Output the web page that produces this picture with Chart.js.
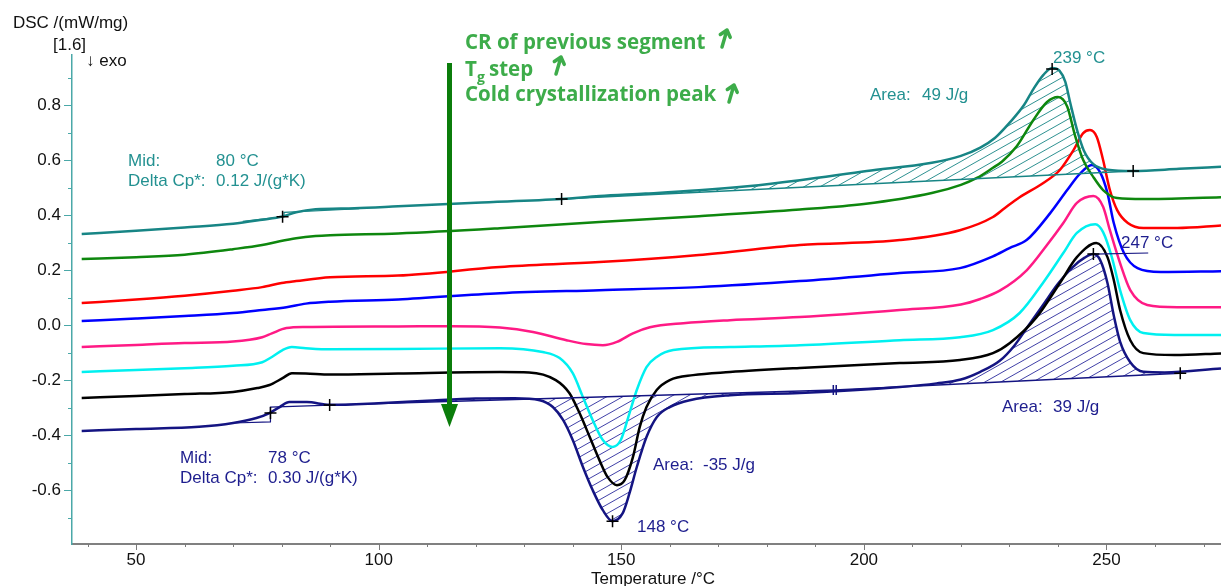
<!DOCTYPE html>
<html>
<head>
<meta charset="utf-8">
<script src="https://cdn.jsdelivr.net/npm/chart.js@4.4.1/dist/chart.umd.min.js"></script>
<style>
  html, body { margin: 0; padding: 0; background: #fff; }
  #wrap { width: 1221px; height: 586px; position: relative; }
</style>
</head>
<body>
<div id="wrap"><canvas id="dscChart"></canvas></div>
<script>
// temperature (°C) / DSC (mW/mg) pairs, top curve first
const tealT = [38.8, 50, 60, 70, 76, 80.2, 83, 87, 95, 104, 120, 137.7, 145.5, 155, 166, 176, 186.8, 200.6, 214, 220, 224, 227, 230, 233, 235, 237, 238.8, 240.3, 241.5, 242.5, 244, 245.3, 247.3, 250.2, 255.5, 265, 273.6];
const tealDsc = [0.331, 0.343, 0.355, 0.368, 0.383, 0.395, 0.41, 0.421, 0.425, 0.432, 0.445, 0.458, 0.469, 0.478, 0.49, 0.505, 0.527, 0.56, 0.59, 0.615, 0.645, 0.68, 0.735, 0.8, 0.86, 0.91, 0.935, 0.925, 0.885, 0.81, 0.705, 0.636, 0.585, 0.565, 0.56, 0.568, 0.576];

const greenT = [38.8, 50, 60, 70, 76, 79.6, 83, 87, 90, 104, 125, 145.5, 166, 186.8, 200, 214, 220, 223.3, 226.6, 228.5, 231.5, 234.9, 237.7, 240, 241.9, 243.5, 245.2, 247.3, 249.3, 252.2, 257.6, 273.6];
const greenDsc = [0.24, 0.247, 0.256, 0.276, 0.291, 0.305, 0.316, 0.324, 0.327, 0.333, 0.352, 0.375, 0.396, 0.42, 0.44, 0.48, 0.51, 0.535, 0.572, 0.595, 0.65, 0.745, 0.81, 0.829, 0.795, 0.69, 0.6, 0.538, 0.491, 0.462, 0.458, 0.465];

const redT = [38.8, 50, 60, 70, 76, 80, 83, 90, 104, 125, 145.5, 166, 186.8, 207.4, 219.8, 226.6, 229, 232.1, 236.9, 240.4, 243.2, 245.2, 246.6, 248, 249.3, 250.7, 252.2, 254.4, 257.6, 264.6, 273.6];
const redDsc = [0.08, 0.093, 0.107, 0.125, 0.138, 0.153, 0.16, 0.174, 0.18, 0.211, 0.229, 0.255, 0.291, 0.309, 0.345, 0.393, 0.425, 0.465, 0.516, 0.564, 0.636, 0.698, 0.709, 0.684, 0.6, 0.491, 0.418, 0.371, 0.353, 0.353, 0.362];

const blueT = [38.8, 50, 60, 70, 76, 81, 85, 90, 104, 125, 145.5, 166, 186.8, 207.4, 219.8, 226.6, 230, 233.6, 238.4, 241.9, 244.5, 247, 248.7, 250.2, 251.5, 253.6, 256.4, 261.2, 273.6];
const blueDsc = [0.015, 0.024, 0.033, 0.044, 0.055, 0.065, 0.078, 0.085, 0.093, 0.116, 0.127, 0.138, 0.16, 0.189, 0.207, 0.25, 0.28, 0.31, 0.407, 0.491, 0.55, 0.582, 0.555, 0.48, 0.371, 0.262, 0.207, 0.193, 0.196];

const pinkT = [38.8, 50, 60, 70, 76, 78, 81, 85, 104, 115, 125, 131.8, 138.7, 142.8, 146.2, 149.1, 152.4, 155.9, 162.8, 172.4, 186.8, 207.4, 220, 224, 228, 233.6, 237.7, 241.1, 243.9, 247.3, 249.3, 250.7, 252.8, 254.9, 258.4, 264.6, 273.6];
const pinkDsc = [-0.08, -0.072, -0.065, -0.06, -0.044, -0.03, -0.011, -0.007, -0.005, -0.004, -0.009, -0.025, -0.055, -0.069, -0.073, -0.061, -0.03, -0.008, 0.007, 0.018, 0.029, 0.055, 0.075, 0.095, 0.125, 0.2, 0.29, 0.371, 0.444, 0.469, 0.43, 0.345, 0.225, 0.127, 0.073, 0.065, 0.065];

const cyanT = [38.8, 50, 60, 70, 76, 78, 80.2, 82.1, 85, 90, 104, 125, 133.8, 137.3, 140, 142.1, 144.1, 146.2, 148.2, 149.9, 151.7, 153.2, 155.2, 157.3, 160.7, 172.4, 186.8, 207.4, 219.8, 226.6, 232.1, 236.9, 241.1, 243.9, 247.7, 249.3, 251.1, 252.8, 254.9, 257.6, 264, 273.6];
const cyanDsc = [-0.171, -0.163, -0.157, -0.148, -0.135, -0.116, -0.091, -0.08, -0.084, -0.088, -0.087, -0.084, -0.098, -0.12, -0.175, -0.262, -0.345, -0.418, -0.443, -0.418, -0.32, -0.236, -0.153, -0.116, -0.091, -0.08, -0.073, -0.055, -0.044, -0.018, 0.044, 0.153, 0.262, 0.335, 0.367, 0.338, 0.247, 0.127, 0.018, -0.029, -0.036, -0.036];

const blackT = [38.8, 50, 60, 70, 75, 77.5, 80.2, 82.1, 85, 90, 104, 125, 131, 136.5, 139.3, 141.4, 143.5, 145.5, 147.2, 149.1, 150.7, 152.4, 153.8, 155.2, 157.3, 160, 164.8, 172.4, 186.8, 207.4, 219.8, 226.6, 230.1, 235.6, 240.4, 243.9, 247.9, 250.2, 251.5, 252.8, 254.9, 257.6, 264, 273.6];
const blackDsc = [-0.265, -0.258, -0.251, -0.243, -0.229, -0.218, -0.193, -0.175, -0.176, -0.18, -0.176, -0.171, -0.172, -0.2, -0.247, -0.32, -0.407, -0.491, -0.553, -0.582, -0.564, -0.48, -0.371, -0.298, -0.236, -0.2, -0.182, -0.171, -0.156, -0.138, -0.127, -0.102, -0.065, 0.029, 0.153, 0.247, 0.298, 0.247, 0.164, 0.055, -0.055, -0.102, -0.109, -0.103];

const navyT = [38.8, 50, 63, 70, 74.8, 77.5, 79.6, 81.6, 85.2, 89.9, 100, 110, 120, 128, 133.2, 135.9, 138, 140, 142.1, 144.1, 146.2, 148.2, 150.3, 151.7, 153.2, 155.2, 157.3, 160, 164.1, 172.4, 186.8, 207.4, 215, 220, 224, 228, 231, 234, 237, 240, 243, 245.5, 247.3, 248.7, 250.2, 251.5, 252.8, 254.9, 257.6, 262, 273.6];
const navyDsc = [-0.385, -0.378, -0.37, -0.356, -0.338, -0.32, -0.298, -0.28, -0.28, -0.29, -0.284, -0.275, -0.267, -0.266, -0.273, -0.298, -0.345, -0.418, -0.516, -0.6, -0.673, -0.713, -0.684, -0.611, -0.516, -0.407, -0.335, -0.298, -0.273, -0.255, -0.247, -0.225, -0.212, -0.198, -0.17, -0.13, -0.075, 0.0, 0.075, 0.15, 0.21, 0.245, 0.258, 0.236, 0.153, 0.035, -0.06, -0.135, -0.17, -0.172, -0.158];

// evaluation baselines and Tg constructions
const tealBaseT = [137.7, 255.5];
const tealBaseDsc = [0.458, 0.56];
const navyBase1T = [89.9, 194.0];
const navyBase1Dsc = [-0.291, -0.236];
const navyBase2T = [194.0, 265.2];
const navyBase2Dsc = [-0.236, -0.175];
const tealTgT = [72, 80.5, 80.5, 96];
const tealTgDsc = [0.377, 0.394, 0.41, 0.423];
const navyTgT = [70, 77.7, 77.7, 90];
const navyTgDsc = [-0.356, -0.352, -0.298, -0.291];
const navyPeakT = [247.3, 258.6];
const navyPeakDsc = [0.258, 0.262];

// evaluation markers
const markT = [80.2, 137.7, 238.8, 255.5, 77.7, 89.9, 148.2, 247.3, 265.2];
const markDsc = [0.394, 0.458, 0.931, 0.56, -0.32, -0.291, -0.713, 0.258, -0.175];
const splitT = [193.7, 194.3];
const splitDsc = [-0.236, -0.236];

const xTicks = [40, 50, 60, 70, 80, 90, 100, 110, 120, 130, 140, 150, 160, 170, 180, 190, 200, 210, 220, 230, 240, 250, 260, 270];
const xTickLabels = [50, 100, 150, 200, 250];
const yTicks = [-0.7, -0.6, -0.5, -0.4, -0.3, -0.2, -0.1, 0.0, 0.1, 0.2, 0.3, 0.4, 0.5, 0.6, 0.7, 0.8, 0.9];
const yTickLabels = [-0.6, -0.4, -0.2, 0.0, 0.2, 0.4, 0.6, 0.8];

const TEAL = "#178585";
const TEAL_TEXT = "#239191";
const NAVY = "#141482";
const NAVY_TEXT = "#1e1e8e";
const GREEN_TEXT = "#3dac4a";
const FONT = '"Liberation Sans", Arial, sans-serif';

const canvas = document.getElementById("dscChart");
const mainCtx = canvas.getContext("2d");

function hatch(color) {
    const c = document.createElement("canvas");
    c.width = 16;
    c.height = 9;
    const g = c.getContext("2d");
    g.strokeStyle = color;
    g.lineWidth = 1;
    for (let k = -1; k <= 1; k++) {
        g.beginPath();
        g.moveTo(0, 9 + 9 * k);
        g.lineTo(16, 9 * k);
        g.stroke();
    }
    return mainCtx.createPattern(c, "repeat");
}

const toPoints = (ts, vs) => ts.map((t, i) => ({ x: t, y: vs[i] }));

const curve = (label, ts, vs, color) => ({
    label,
    data: toPoints(ts, vs),
    borderColor: color,
    borderWidth: 2.5,
    pointRadius: 0,
    cubicInterpolationMode: "monotone",
    fill: false,
    order: 2,
});

const straight = (label, ts, vs, color, width) => ({
    label,
    data: toPoints(ts, vs),
    borderColor: color,
    borderWidth: width,
    pointRadius: 0,
    tension: 0,
    fill: false,
    order: 1,
});

const hatchArea = (label, ts, vs, target, pattern) => ({
    label,
    data: toPoints(ts, vs),
    borderWidth: 0,
    borderColor: "rgba(0,0,0,0)",
    backgroundColor: pattern,
    pointRadius: 0,
    cubicInterpolationMode: "monotone",
    fill: { target: target, above: pattern, below: pattern },
    order: 3,
});

const tealHatch = hatch("rgba(23,133,133,0.9)");
const navyHatch = hatch("rgba(30,30,150,0.85)");

const datasets = [
    curve("teal", tealT, tealDsc, TEAL),
    curve("green", greenT, greenDsc, "#0e870e"),
    curve("red", redT, redDsc, "#ff0000"),
    curve("blue", blueT, blueDsc, "#0000ff"),
    curve("pink", pinkT, pinkDsc, "#ff1a85"),
    curve("cyan", cyanT, cyanDsc, "#00f0f0"),
    curve("black", blackT, blackDsc, "#000000"),
    curve("navy", navyT, navyDsc, NAVY),
    straight("tealBase", tealBaseT, tealBaseDsc, TEAL, 1.5), // 8
    straight("navyBase1", navyBase1T, navyBase1Dsc, NAVY, 1.5), // 9
    straight("navyBase2", navyBase2T, navyBase2Dsc, NAVY, 1.5), // 10
    straight("tealTg", tealTgT, tealTgDsc, TEAL, 1.2),
    straight("navyTg", navyTgT, navyTgDsc, NAVY, 1.2),
    straight("navyPeak", navyPeakT, navyPeakDsc, NAVY, 1.2),
    hatchArea("tealHatch", tealT, tealDsc, 8, tealHatch),
    hatchArea("navyHatch1", navyT, navyDsc, 9, navyHatch),
    hatchArea("navyHatch2", navyT, navyDsc, 10, navyHatch),
    {
        label: "marks",
        data: toPoints(markT, markDsc),
        showLine: false,
        pointStyle: "cross",
        pointRadius: 6,
        pointBorderColor: "#000",
        pointBorderWidth: 1.5,
        order: 0,
    },
    {
        label: "split",
        data: toPoints(splitT, splitDsc),
        showLine: false,
        pointStyle: "line",
        pointRotation: 90,
        pointRadius: 5,
        pointBorderColor: NAVY,
        pointBorderWidth: 1.5,
        order: 0,
    },
];

function text(ctx, str, x, y, color, font, align) {
    ctx.fillStyle = color;
    ctx.font = font;
    ctx.textAlign = align || "left";
    ctx.textBaseline = "middle";
    ctx.fillText(str, x, y);
}

function smallArrow(ctx, tx, ty, hx, hy) {
    const a = Math.atan2(hy - ty, hx - tx);
    ctx.beginPath();
    ctx.moveTo(tx, ty);
    ctx.lineTo(hx, hy);
    ctx.moveTo(hx + 8 * Math.cos(a + Math.PI - 0.7), hy + 8 * Math.sin(a + Math.PI - 0.7));
    ctx.lineTo(hx, hy);
    ctx.lineTo(hx + 8 * Math.cos(a + Math.PI + 0.7), hy + 8 * Math.sin(a + Math.PI + 0.7));
    ctx.stroke();
}

const decorations = {
    id: "decorations",
    afterDraw(chart) {
        const { ctx, scales } = chart;
        const x = scales.x;
        const y = scales.y;
        ctx.save();

        // tick marks, major ones longer
        ctx.lineWidth = 1;
        ctx.strokeStyle = "#7a7a7a";
        xTicks.forEach((v) => {
            const px = Math.round(x.getPixelForValue(v)) + 0.5;
            const len = xTickLabels.includes(v) ? 6 : 3;
            ctx.beginPath();
            ctx.moveTo(px, x.top);
            ctx.lineTo(px, x.top + len);
            ctx.stroke();
        });
        ctx.strokeStyle = "#4aa8a8";
        yTicks.forEach((v) => {
            const py = Math.round(y.getPixelForValue(v)) + 0.5;
            const major = yTickLabels.some((l) => Math.abs(l - v) < 1e-6);
            const len = major ? 8 : 4;
            ctx.beginPath();
            ctx.moveTo(y.right - len, py);
            ctx.lineTo(y.right, py);
            ctx.stroke();
        });

        // axis titles
        const f17 = "17px " + FONT;
        text(ctx, "DSC /(mW/mg)", 13, 23, "#111", f17);
        text(ctx, "[1.6]", 53, 45, "#111", f17);
        text(ctx, "\u2193 exo", 86, 61, "#111", f17);
        text(ctx, "Temperature /\u00b0C", 653, 579, "#111", f17, "center");

        // evaluation results
        text(ctx, "Mid:", 128, 161, TEAL_TEXT, f17);
        text(ctx, "80 \u00b0C", 216, 161, TEAL_TEXT, f17);
        text(ctx, "Delta Cp*:", 128, 181, TEAL_TEXT, f17);
        text(ctx, "0.12 J/(g*K)", 216, 181, TEAL_TEXT, f17);
        text(ctx, "239 \u00b0C", 1053, 58, TEAL_TEXT, f17);
        text(ctx, "Area:", 870, 95, TEAL_TEXT, f17);
        text(ctx, "49 J/g", 922, 95, TEAL_TEXT, f17);

        text(ctx, "Mid:", 180, 458, NAVY_TEXT, f17);
        text(ctx, "78 \u00b0C", 268, 458, NAVY_TEXT, f17);
        text(ctx, "Delta Cp*:", 180, 478, NAVY_TEXT, f17);
        text(ctx, "0.30 J/(g*K)", 268, 478, NAVY_TEXT, f17);
        text(ctx, "Area:", 653, 465, NAVY_TEXT, f17);
        text(ctx, "-35 J/g", 703, 465, NAVY_TEXT, f17);
        text(ctx, "148 \u00b0C", 637, 527, NAVY_TEXT, f17);
        text(ctx, "Area:", 1002, 407, NAVY_TEXT, f17);
        text(ctx, "39 J/g", 1053, 407, NAVY_TEXT, f17);
        text(ctx, "247 \u00b0C", 1121, 243, NAVY_TEXT, f17);

        // segment order arrow
        ctx.strokeStyle = "#0b7d0b";
        ctx.fillStyle = "#0b7d0b";
        ctx.lineWidth = 5;
        ctx.beginPath();
        ctx.moveTo(449.5, 63);
        ctx.lineTo(449.5, 408);
        ctx.stroke();
        ctx.beginPath();
        ctx.moveTo(441, 404);
        ctx.lineTo(458, 404);
        ctx.lineTo(449.5, 427);
        ctx.closePath();
        ctx.fill();

        // green legend notes
        const gb = "bold 20.5px 'Open Sans', sans-serif";
        text(ctx, "CR of previous segment", 465, 43, GREEN_TEXT, gb);
        text(ctx, "T", 465, 70, GREEN_TEXT, gb);
        text(ctx, "g", 477, 78, GREEN_TEXT, "bold 14px 'Open Sans', sans-serif");
        text(ctx, "step", 489, 70, GREEN_TEXT, gb);
        text(ctx, "Cold crystallization peak", 465, 95, GREEN_TEXT, gb);
        ctx.strokeStyle = GREEN_TEXT;
        ctx.lineWidth = 3.5;
        ctx.lineCap = "round";
        ctx.lineJoin = "round";
        smallArrow(ctx, 722, 47, 727, 30);
        smallArrow(ctx, 556, 74, 561, 57);
        smallArrow(ctx, 729, 102, 734, 85);

        ctx.restore();
    },
};

Chart.defaults.font.family = FONT;
Chart.defaults.font.size = 17;
Chart.defaults.color = "#111";

new Chart(mainCtx, {
    type: "line",
    data: { datasets },
    options: {
        responsive: true,
        maintainAspectRatio: false,
        animation: false,
        devicePixelRatio: 1,
        layout: { autoPadding: false, padding: { top: 55, right: 0, left: 0, bottom: 0 } },
        plugins: {
            legend: { display: false },
            tooltip: { enabled: false },
            filler: { propagate: false },
        },
        scales: {
            x: {
                type: "linear",
                min: 36.8,
                max: 273.6,
                afterBuildTicks: (scale) => {
                    scale.ticks = xTicks.map((v) => ({ value: v }));
                },
                afterFit: (scale) => {
                    scale.height = 42;
                    scale.paddingLeft = 0;
                    scale.paddingRight = 0;
                },
                ticks: {
                    autoSkip: false,
                    maxRotation: 0,
                    padding: 6,
                    color: "#111",
                    callback: (v) => (xTickLabels.includes(v) ? String(v) : ""),
                },
                grid: { display: false, drawTicks: false, tickLength: 0 },
                border: { display: true, color: "#808080", width: 2 },
            },
            y: {
                type: "linear",
                min: -0.796,
                max: 0.982,
                afterBuildTicks: (scale) => {
                    scale.ticks = yTicks.map((v) => ({ value: v }));
                },
                afterFit: (scale) => {
                    scale.width = 72;
                    scale.paddingTop = 0;
                    scale.paddingBottom = 0;
                },
                ticks: {
                    autoSkip: false,
                    padding: 11,
                    color: "#111",
                    callback: (v) =>
                        yTickLabels.some((l) => Math.abs(l - v) < 1e-6) ? v.toFixed(1) : "",
                },
                grid: { display: false, drawTicks: false, tickLength: 0 },
                border: { display: true, color: "#4aa8a8", width: 1.5 },
            },
        },
    },
    plugins: [decorations],
});
</script>
</body>
</html>
